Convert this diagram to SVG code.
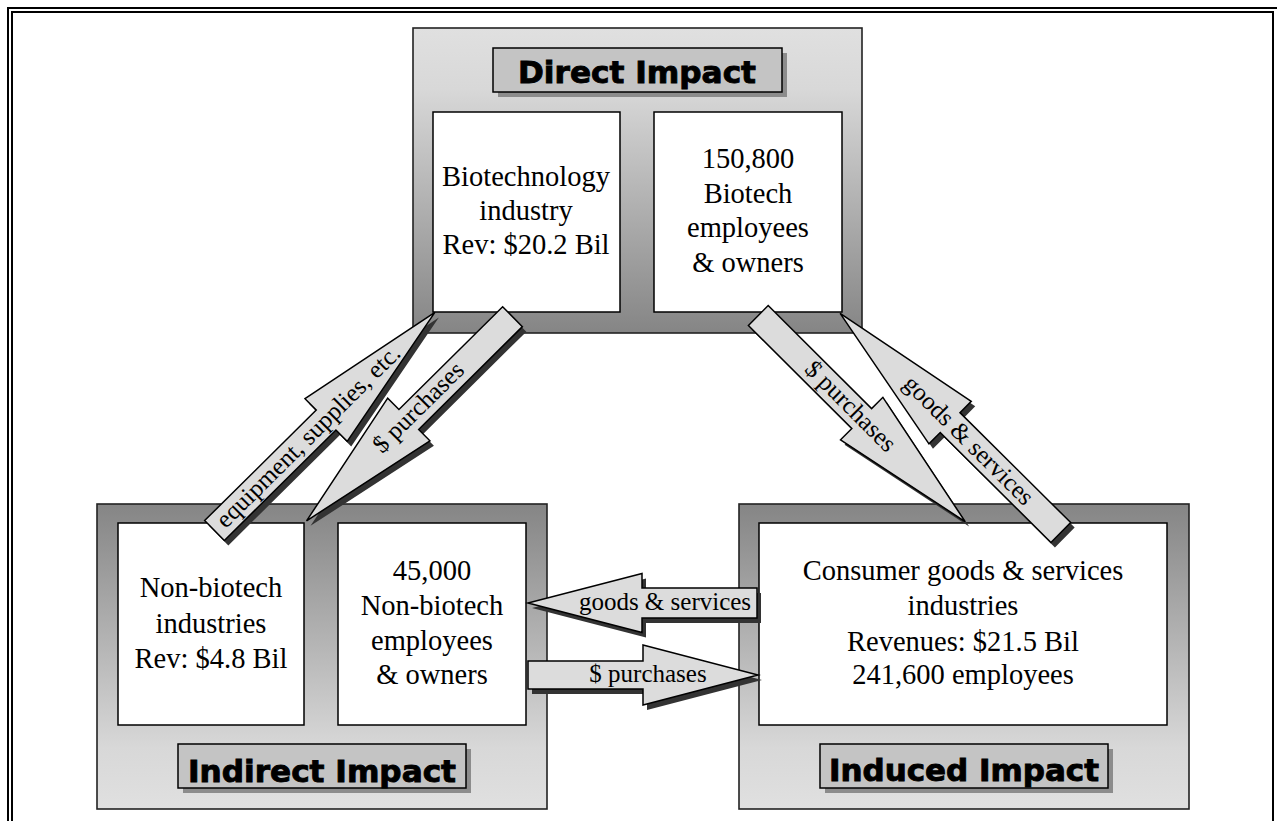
<svg xmlns="http://www.w3.org/2000/svg" xmlns:xlink="http://www.w3.org/1999/xlink" width="1277" height="821" viewBox="0 0 1277 821">
<style>
.frame{fill:none;stroke:#000;stroke-width:2}
.panel{stroke:#222;stroke-width:1.6}
.box{fill:#fff;stroke:#000;stroke-width:1.5}
.lbl{fill:#c4c4c4;stroke:#000;stroke-width:1.5}
.lblsh{fill:#8c8c8c}
.lbltxt{font-family:"DejaVu Sans","Liberation Sans",sans-serif;font-weight:bold;font-size:30px;fill:#000;stroke:#000;stroke-width:0.9;text-anchor:middle}
.txt{font-family:"Liberation Serif","Times New Roman",serif;font-size:28.5px;fill:#000;text-anchor:middle}
.arr{fill:#dcdcdc;stroke:#000;stroke-width:1.5;stroke-linejoin:miter}
.arrsh{fill:#333}
.atxt{font-family:"Liberation Serif","Times New Roman",serif;font-size:25px;fill:#000;text-anchor:middle}
</style>
<defs>
<linearGradient id="gTop" x1="0" y1="0" x2="0" y2="1">
<stop offset="0" stop-color="#e0e0e0"/>
<stop offset="0.2" stop-color="#d8d8d8"/>
<stop offset="1" stop-color="#858585"/>
</linearGradient>
<linearGradient id="gBot" x1="0" y1="0" x2="0" y2="1">
<stop offset="0" stop-color="#858585"/>
<stop offset="0.8" stop-color="#d8d8d8"/>
<stop offset="1" stop-color="#e0e0e0"/>
</linearGradient>
<polygon id="aA" transform="translate(214.5,530.5) rotate(-44.7)" points="0,-14 157,-14 157,-30 310,0 157,30 157,14 0,14"/>
<polygon id="aB" transform="translate(512.5,316.7) rotate(135.25)" points="0,-14 146,-14 146,-30 290,0 146,30 146,14 0,14"/>
<polygon id="aC" transform="translate(758.3,315.5) rotate(44.9)" points="0,-14 146,-14 146,-30 292,0 146,30 146,14 0,14"/>
<polygon id="aD" transform="translate(1060.8,532.5) rotate(-135.2)" points="0,-14 156,-14 156,-30 311,0 156,30 156,14 0,14"/>
<polygon id="aE" transform="translate(757,603) rotate(180)" points="0,-15 115,-15 115,-29.5 229,0 115,29.5 115,15 0,15"/>
<polygon id="aF" transform="translate(528,675) rotate(0)" points="0,-14 115,-14 115,-30 230,0 115,30 115,14 0,14"/>
</defs>

<rect class="frame" x="8" y="8" width="1280" height="830"/>
<rect class="frame" x="12" y="12" width="1261" height="830"/>

<g id="direct-impact">
<rect class="panel" x="413" y="28" width="449" height="305" fill="url(#gTop)"/>
<g id="direct-label">
<rect class="lblsh" x="498" y="53" width="289" height="44"/>
<rect class="lbl" x="493" y="48" width="289" height="44"/>
<text class="lbltxt" x="637" y="83" textLength="238" lengthAdjust="spacingAndGlyphs">Direct Impact</text>
</g>
<g id="biotech-industry">
<rect class="box" x="433" y="112" width="187" height="200"/>
<text class="txt"><tspan x="526" y="186">Biotechnology</tspan><tspan x="526" y="220">industry</tspan><tspan x="526" y="254">Rev: $20.2 Bil</tspan></text>
</g>
<g id="biotech-employees">
<rect class="box" x="654" y="112" width="188" height="200"/>
<text class="txt"><tspan x="748" y="168">150,800</tspan><tspan x="748" y="203">Biotech</tspan><tspan x="748" y="237">employees</tspan><tspan x="748" y="272">&amp; owners</tspan></text>
</g>
</g>

<g id="indirect-impact">
<rect class="panel" x="97" y="504" width="450" height="305" fill="url(#gBot)"/>
<g id="nonbiotech-industries">
<rect class="box" x="118" y="523" width="186" height="202"/>
<text class="txt"><tspan x="211" y="597">Non-biotech</tspan><tspan x="211" y="633">industries</tspan><tspan x="211" y="668">Rev: $4.8 Bil</tspan></text>
</g>
<g id="nonbiotech-employees">
<rect class="box" x="338" y="523" width="188" height="202"/>
<text class="txt"><tspan x="432" y="580">45,000</tspan><tspan x="432" y="615">Non-biotech</tspan><tspan x="432" y="650">employees</tspan><tspan x="432" y="684">&amp; owners</tspan></text>
</g>
<g id="indirect-label">
<rect class="lblsh" x="183" y="749" width="288" height="44"/>
<rect class="lbl" x="178" y="744" width="288" height="44"/>
<text class="lbltxt" x="322" y="782" textLength="268" lengthAdjust="spacingAndGlyphs">Indirect Impact</text>
</g>
</g>

<g id="induced-impact">
<rect class="panel" x="739" y="504" width="450" height="305" fill="url(#gBot)"/>
<g id="consumer-industries">
<rect class="box" x="759" y="523" width="408" height="202"/>
<text class="txt"><tspan x="963" y="580">Consumer goods &amp; services</tspan><tspan x="963" y="615">industries</tspan><tspan x="963" y="651">Revenues: $21.5 Bil</tspan><tspan x="963" y="684">241,600 employees</tspan></text>
</g>
<g id="induced-label">
<rect class="lblsh" x="825" y="749" width="288" height="44"/>
<rect class="lbl" x="820" y="744" width="288" height="44"/>
<text class="lbltxt" x="964" y="781" textLength="270" lengthAdjust="spacingAndGlyphs">Induced Impact</text>
</g>
</g>

<g id="connectors">
<g id="arrow-equipment">
<use xlink:href="#aA" href="#aA" class="arrsh" transform="translate(4,5)"/>
<use xlink:href="#aA" href="#aA" class="arr"/>
<text class="atxt" transform="translate(309,437) rotate(-44.7)" x="0" y="7">equipment, supplies, etc.</text>
</g>
<g id="arrow-purchases-indirect">
<use xlink:href="#aB" href="#aB" class="arrsh" transform="translate(4,5)"/>
<use xlink:href="#aB" href="#aB" class="arr"/>
<text class="atxt" transform="translate(419,408) rotate(-44.75)" x="0" y="7">$ purchases</text>
</g>
<g id="arrow-purchases-induced">
<use xlink:href="#aC" href="#aC" class="arrsh" transform="translate(4,5)"/>
<use xlink:href="#aC" href="#aC" class="arr"/>
<text class="atxt" transform="translate(850,407) rotate(44.9)" x="0" y="7">$ purchases</text>
</g>
<g id="arrow-goods-direct">
<use xlink:href="#aD" href="#aD" class="arrsh" transform="translate(4,5)"/>
<use xlink:href="#aD" href="#aD" class="arr"/>
<text class="atxt" transform="translate(968,441) rotate(44.8)" x="0" y="7">goods &amp; services</text>
</g>
<g id="arrow-goods-indirect">
<use xlink:href="#aE" href="#aE" class="arrsh" transform="translate(4,5)"/>
<use xlink:href="#aE" href="#aE" class="arr"/>
<text class="atxt" x="665" y="610">goods &amp; services</text>
</g>
<g id="arrow-purchases-horizontal">
<use xlink:href="#aF" href="#aF" class="arrsh" transform="translate(4,5)"/>
<use xlink:href="#aF" href="#aF" class="arr"/>
<text class="atxt" x="648" y="682">$ purchases</text>
</g>
</g>
</svg>
